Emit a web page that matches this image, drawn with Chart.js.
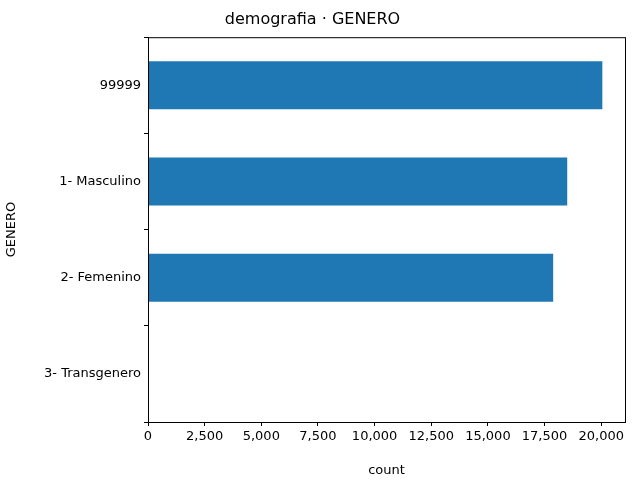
<!DOCTYPE html>
<html>
<head>
<meta charset="utf-8">
<script src="https://cdn.jsdelivr.net/npm/chart.js@4"></script>
<style>
  body { margin: 0; background: #fff; }
</style>
</head>
<body>
<canvas id="chart" width="640" height="480"></canvas>
<script>
// categories and counts
const categories = ["99999", "1- Masculino", "2- Femenino", "3- Transgenero"];
const counts = [20050, 18500, 17880, 0];
const xTicks = [0, 2500, 5000, 7500, 10000, 12500, 15000, 17500, 20000];

// draws the top and right spines like matplotlib
const frame = {
    id: "frame",
    afterDraw(chart) {
        const a = chart.chartArea;
        const ctx = chart.ctx;
        ctx.save();
        ctx.strokeStyle = "#000";
        ctx.lineWidth = 1;
        ctx.strokeRect(a.left + 0.5, a.top + 0.5, a.right - a.left, a.bottom - a.top);
        ctx.restore();
    }
};

const font = { family: "DejaVu Sans", size: 13 };

new Chart(document.getElementById("chart"), {
    type: "bar",
    data: {
        labels: categories,
        datasets: [{
            data: counts,
            backgroundColor: "#1f77b4",
            barPercentage: 0.5,
            categoryPercentage: 1.0
        }]
    },
    options: {
        indexAxis: "y",
        responsive: false,
        devicePixelRatio: 1,
        animation: false,
        layout: { padding: { right: 15 } },
        plugins: {
            legend: { display: false },
            tooltip: { enabled: false },
            title: {
                display: true,
                text: "demografia · GENERO",
                color: "#000",
                font: { family: "DejaVu Sans", size: 16, weight: "normal" },
                padding: { top: 10, bottom: 8 }
            }
        },
        scales: {
            x: {
                min: 0,
                max: 21050,
                afterBuildTicks(scale) {
                    scale.ticks = xTicks.map(v => ({ value: v }));
                },
                afterFit(scale) { scale.height = 58; },
                ticks: { color: "#000", font: font, autoSkip: false, maxRotation: 0 },
                grid: { drawOnChartArea: false, color: "#000", tickLength: 4 },
                border: { color: "#000" },
                title: { display: true, text: "count", color: "#000", font: font, padding: 2 }
            },
            y: {
                afterFit(scale) { scale.width = 148; },
                ticks: { color: "#000", font: font },
                grid: { drawOnChartArea: false, color: "#000", tickLength: 4 },
                border: { color: "#000" },
                title: { display: true, text: "GENERO", color: "#000", font: font, padding: 4 }
            }
        }
    },
    plugins: [frame]
});
</script>
</body>
</html>
